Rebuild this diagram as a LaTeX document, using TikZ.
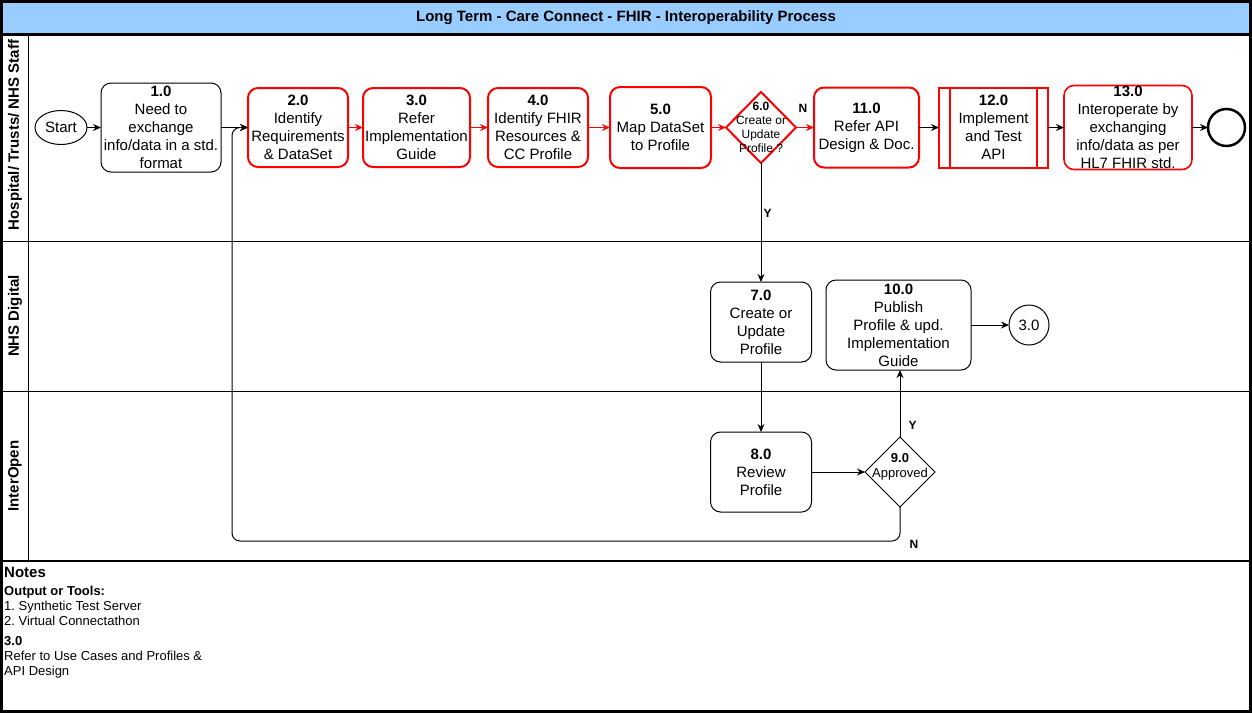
\documentclass[tikz,border=0pt]{standalone}
\usepackage{fontspec}
\setmainfont{Liberation Sans}
\usetikzlibrary{positioning,shapes.geometric,arrows.meta}
\definecolor{flowred}{HTML}{FF0000}
\definecolor{titleblue}{HTML}{99CCFF}
\newcommand\boxfont{\fontsize{15}{18}\selectfont}
\newcommand\smallfont{\fontsize{12}{14}\selectfont}
\newcommand\notefont{\fontsize{13}{15}\selectfont}

\tikzstyle{stepk} = [rectangle, rounded corners=10pt, draw=black, line width=1pt, text centered, align=center, inner sep=0pt, outer sep=0pt, font=\boxfont]
\tikzstyle{stepr} = [stepk, draw=flowred, line width=2pt]
\tikzstyle{subproc} = [rectangle, draw=flowred, line width=2pt, text centered, align=center, inner sep=0pt, outer sep=0pt, font=\boxfont]
\tikzstyle{decision} = [diamond, draw=black, line width=1pt, inner sep=0pt, outer sep=0pt, minimum width=70pt, minimum height=70pt]
\tikzstyle{flow} = [-{Stealth[length=8pt,width=7pt]}, line width=1pt]
\tikzstyle{flowr} = [flow, draw=flowred, line width=1.3pt]
\tikzstyle{lbl} = [font=\smallfont\bfseries, inner sep=0pt]
\tikzstyle{lane} = [font=\boxfont\bfseries, rotate=90]

\begin{document}
\frenchspacing
\begin{tikzpicture}[x=1pt, y=-1pt]
    \useasboundingbox (0,0) rectangle (1252,713);

    % pool and lanes
    \fill[titleblue] (1.5,1.5) rectangle (1250.5,34);
    \node (title) [font=\boxfont\bfseries] at (626,17.5) {Long Term - Care Connect - FHIR - Interoperability Process};
    \draw[line width=3pt] (1.5,34) -- (1250.5,34);
    \draw[line width=1pt] (28,34) -- (28,561);
    \draw[line width=1pt] (1.5,241) -- (1250.5,241);
    \draw[line width=1pt] (1.5,391) -- (1250.5,391);
    \draw[line width=1.5pt] (1.5,561) -- (1250.5,561);
    \draw[line width=3pt] (1.5,1.5) rectangle (1250.5,711.5);
    \node (laneA) [lane] at (15,135) {Hospital/ Trusts/ NHS Staff};
    \node (laneB) [lane] at (15,316) {NHS Digital};
    \node (laneC) [lane] at (15,476) {InterOpen};

    % top lane
    \node (n1) [stepk, minimum width=120pt, minimum height=89pt] at (161,127.5) {\textbf{1.0}\\Need to\\exchange\\info/data in a std.\\format};
    \node (start) [ellipse, draw, line width=1pt, minimum width=52pt, minimum height=34pt, inner sep=0pt, outer sep=0pt, font=\boxfont, left=14pt of n1] {Start};
    \node (n2) [stepr, minimum width=100pt, minimum height=79pt, right=27pt of n1] {\textbf{2.0}\\Identify\\Requirements\\\& DataSet};
    \node (n3) [stepr, minimum width=107pt, minimum height=79pt, right=15pt of n2] {\textbf{3.0}\\Refer\\Implementation\\Guide};
    \node (n4) [stepr, minimum width=100pt, minimum height=79pt, right=18pt of n3] {\textbf{4.0}\\Identify FHIR\\Resources \&\\CC Profile};
    \node (n5) [stepr, minimum width=101pt, minimum height=81pt, right=22pt of n4] {\textbf{5.0}\\Map DataSet\\to Profile};
    \node (n6) [decision, draw=flowred, line width=2pt, minimum height=71pt, right=15pt of n5] {};
    \node (n6txt) [font=\smallfont, align=center, inner sep=0pt] at (n6) {\textbf{6.0}\\Create or\\Update\\Profile ?};
    \node (n11) [stepr, minimum width=105pt, minimum height=80pt, right=18pt of n6] {\textbf{11.0}\\Refer API\\Design \& Doc.};
    \node (n12) [subproc, minimum width=109pt, minimum height=80pt, right=20pt of n11] {\textbf{12.0}\\Implement\\and Test\\API};
    \draw[flowred, line width=2pt] ([xshift=11pt]n12.north west) -- ([xshift=11pt]n12.south west);
    \draw[flowred, line width=2pt] ([xshift=-11pt]n12.north east) -- ([xshift=-11pt]n12.south east);
    \node (n13) [stepr, line width=1.6pt, minimum width=128pt, minimum height=84pt, inner ysep=-2pt, right=16pt of n12] {\textbf{13.0}\\Interoperate by\\exchanging\\info/data as per\\HL7 FHIR std.};
    \node (end) [circle, draw, line width=2.5pt, minimum size=37pt, inner sep=0pt, outer sep=0pt, right=16pt of n13] {};

    % middle and bottom lanes
    \node (n7) [stepk, minimum width=101pt, minimum height=80pt] at (761,322) {\textbf{7.0}\\Create or\\Update\\Profile};
    \node (n10) [stepk, minimum width=145pt, minimum height=90pt] at (898.5,325) {\textbf{10.0}\\Publish\\Profile \& upd.\\Implementation\\Guide};
    \node (c3) [circle, draw, line width=1pt, minimum size=40pt, inner sep=0pt, outer sep=0pt, font=\boxfont] at (1029,325) {3.0};
    \node (n8) [stepk, minimum width=101pt, minimum height=80pt] at (761,472) {\textbf{8.0}\\Review\\Profile};
    \node (n9) [decision] at (900,472) {};
    \node (n9txt) [font=\notefont, align=center, inner sep=0pt] at ([yshift=5pt]n9.center) {\textbf{9.0}\\Approved};
    \coordinate (loopc) at (232,541);

    % connectors
    \draw [flow] (start) -- (n1);
    \draw [flow] (n1) -- (n2);
    \draw [flowr] (n2) -- (n3);
    \draw [flowr] (n3) -- (n4);
    \draw [flowr] (n4) -- (n5);
    \draw [flowr] (n5) -- (n6);
    \draw [flowr] (n6) -- node[lbl, above=14pt, xshift=-2pt] {N} (n11);
    \draw [flow] (n11) -- (n12);
    \draw [flow] (n12) -- (n13);
    \draw [flow] (n13) -- (end);
    \draw [flow] (n6) -- node[lbl, pos=0.42, right=2pt] {Y} (n7);
    \draw [flow] (n7) -- (n8);
    \draw [flow] (n8) -- (n9);
    \draw [flow] (n9.north) -- node[lbl, pos=0.18, right=8pt] {Y} (n9.north |- n10.south);
    \draw [flow] (n10) -- (c3);
    \draw [flow, rounded corners=8pt] (n9.south) |- node[lbl, pos=0.5, right=9pt, yshift=-3pt] {N} (loopc) |- (n2.west);

    % notes
    \node (notes) [anchor=base west, inner sep=0pt, font=\boxfont\bfseries] at (4,577.5) {Notes};
    \node (notebody) [anchor=north west, inner sep=0pt, align=left, font=\notefont] at (4,585.5) {\textbf{Output or Tools:}\\1. Synthetic Test Server\\2. Virtual Connectathon\\[5pt]\textbf{3.0}\\Refer to Use Cases and Profiles \&\\API Design};
\end{tikzpicture}
\end{document}
